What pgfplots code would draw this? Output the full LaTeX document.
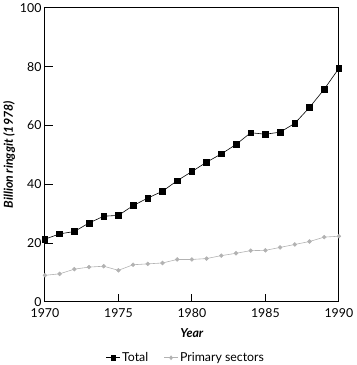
\documentclass[border=0pt]{standalone}
\usepackage{fontspec}
\setmainfont{Lato}
\usepackage{pgfplots}
\pgfplotsset{compat=1.18}
\begin{document}
\begin{tikzpicture}
\begin{axis}[
  scale only axis,
  width=298pt, height=298pt,
  xmin=1970, xmax=1990, ymin=0, ymax=100,
  xtick={1970,1975,...,1990}, ytick={0,20,...,100},
  xtick pos=bottom, ytick pos=left, tick align=inside,
  major tick length=8pt,
  /pgf/number format/assume math mode=true,
  /pgf/number format/1000 sep={},
  tick label style={font=\fontsize{12.5}{14}\selectfont},
  xticklabel style={yshift=-3pt},
  yticklabel style={xshift=0pt},
  axis line style={line width=0.9pt},
  tick style={line width=0.9pt, black},
  xlabel={\textbf{\textit{Year}}},
  ylabel={\textbf{\textit{Billion ringgit (1978)}}},
  label style={font=\fontsize{12.5}{14}\selectfont},
  xlabel style={yshift=-5pt},
  ylabel style={yshift=-2pt},
  legend style={at={(0.48,-0.165)}, anchor=north, draw=none, inner sep=0pt, font=\fontsize{12.5}{14}\selectfont, legend columns=2, /tikz/every even column/.append style={column sep=14pt}},
  legend cell align=left,
  legend image post style={xscale=0.8},
]
\addplot[black, line width=0.6pt, mark=square*, mark size=2.9pt] coordinates {
(1970,21.3)(1971,23.1)(1972,23.9)(1973,26.8)(1974,29.1)(1975,29.4)(1976,32.7)(1977,35.3)(1978,37.6)(1979,41.2)(1980,44.3)(1981,47.5)(1982,50.3)(1983,53.5)(1984,57.5)(1985,57.0)(1986,57.7)(1987,60.7)(1988,66.1)(1989,72.3)(1990,79.4)};
\addlegendentry{Total}
\addplot[gray!60, line width=0.6pt, mark=*, mark size=1.9pt] coordinates {
(1970,9.0)(1971,9.5)(1972,11.1)(1973,11.8)(1974,12.1)(1975,10.7)(1976,12.6)(1977,12.9)(1978,13.2)(1979,14.4)(1980,14.4)(1981,14.7)(1982,15.7)(1983,16.5)(1984,17.4)(1985,17.5)(1986,18.5)(1987,19.5)(1988,20.5)(1989,22.0)(1990,22.3)};
\addlegendentry{Primary sectors}
\end{axis}
\end{tikzpicture}
\end{document}
